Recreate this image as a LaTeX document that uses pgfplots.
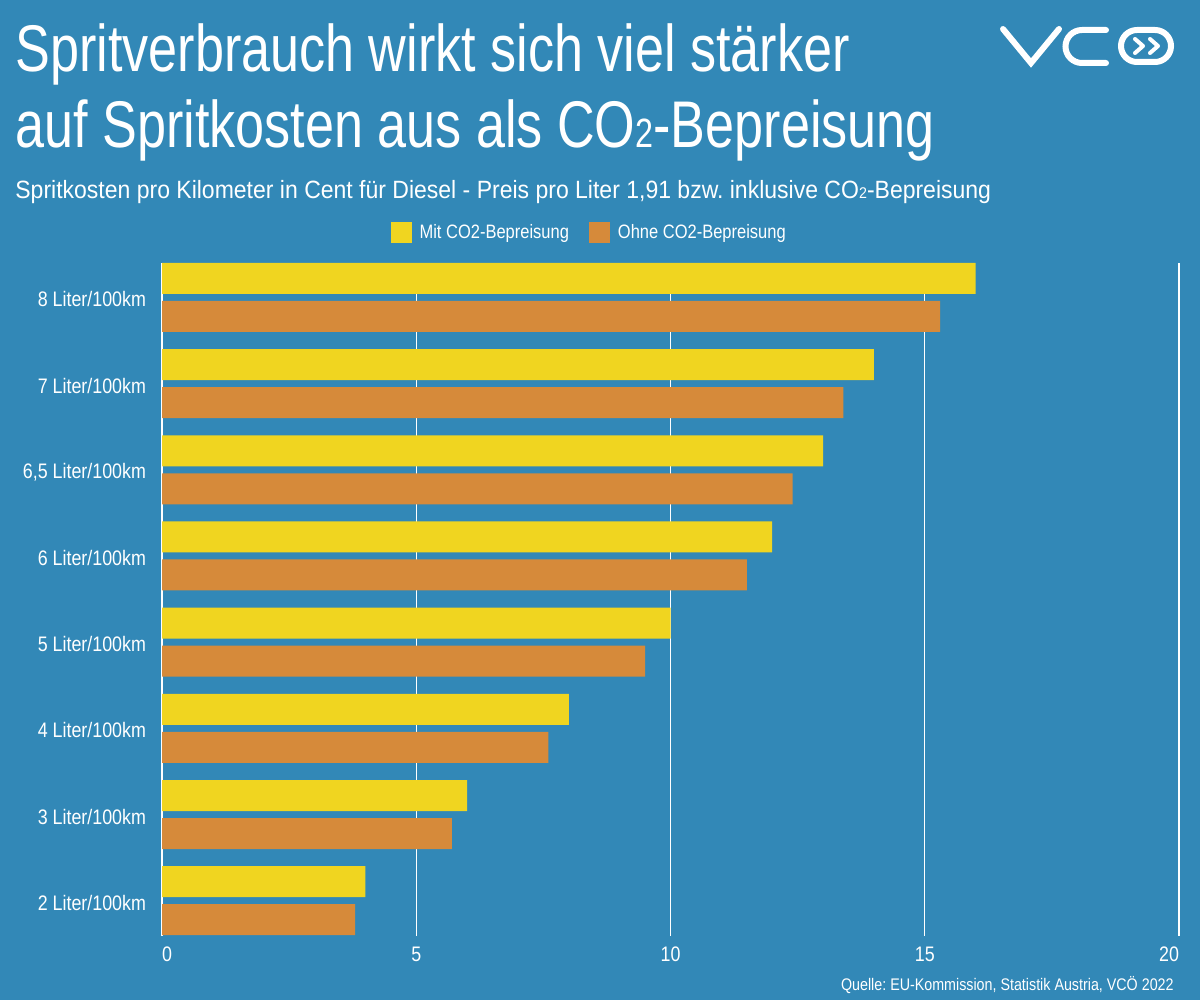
\documentclass[border=0pt]{standalone}
\usepackage{pgfplots}
\pgfplotsset{compat=1.18}
\usepackage{fontspec}
\setmainfont{Liberation Sans}[FakeStretch=0.85]
\newfontfamily\titlefont{Liberation Sans}[FakeStretch=0.79]
\newfontfamily\subfont{Liberation Sans}[FakeStretch=0.92]
\definecolor{bg}{HTML}{3288B7}
\definecolor{ymit}{HTML}{F0D520}
\definecolor{oohne}{HTML}{D68A3A}
\newcommand{\sub}[1]{\scalebox{0.62}{#1}}
\frenchspacing
\begin{document}
\begin{tikzpicture}
\fill[bg] (0,0) rectangle (600pt,-500pt);
% title
\node[anchor=base west, inner sep=0pt, text=white, font=\titlefont\fontsize{33pt}{36pt}\selectfont] at (7.5pt,-36pt) {Spritverbrauch wirkt sich viel stärker};
\node[anchor=base west, inner sep=0pt, text=white, font=\titlefont\fontsize{33pt}{36pt}\selectfont] at (7.5pt,-74pt) {auf Spritkosten aus als CO\sub{2}-Bepreisung};
\node[anchor=base west, inner sep=0pt, text=white, font=\subfont\fontsize{12.5pt}{14pt}\selectfont] at (7.5pt,-99.5pt) {Spritkosten pro Kilometer in Cent für Diesel - Preis pro Liter 1,91 bzw. inklusive CO\sub{2}-Bepreisung};
% logo
\draw[white, line width=3pt, line cap=round, line join=miter] (501.5pt,-14.5pt) -- (515.5pt,-31.5pt) -- (529.5pt,-14.5pt);
\draw[white, line width=3pt, line cap=round] (553pt,-15pt) -- (541pt,-15pt) arc[start angle=90, end angle=270, radius=8.25pt] -- (553pt,-31.5pt);
\draw[white, line width=3pt, rounded corners=8pt] (560.5pt,-15pt) rectangle (585.5pt,-31pt);
\draw[white, line width=2pt, line cap=round, line join=round] (567.5pt,-19.5pt) -- (571.5pt,-23pt) -- (567.5pt,-26.5pt);
\draw[white, line width=2pt, line cap=round, line join=round] (575pt,-19.5pt) -- (579pt,-23pt) -- (575pt,-26.5pt);
% source
\node[anchor=base east, inner sep=0pt, text=white, font=\fontsize{8.4pt}{10pt}\selectfont] at (587pt,-495pt) {Quelle: EU-Kommission, Statistik Austria, VCÖ 2022};
\begin{axis}[
  at={(81pt,-468pt)}, anchor=south west,
  scale only axis, width=508.5pt, height=336.5pt,
  xmin=0, xmax=20, ymin=-0.41, ymax=7.4,
  xbar, bar width=15.5pt,
  axis line style={draw=none},
  major tick length=0pt,
  xmajorgrids, grid style={white, line width=0.6pt},
  xtick={0,5,10,15,20},
  xticklabels={\makebox[0pt][l]{0},5,10,15,\makebox[0pt][r]{20}},
  ytick={0,...,7},
  yticklabels={2 Liter/100km,3 Liter/100km,4 Liter/100km,5 Liter/100km,6 Liter/100km,{6,5 Liter/100km},7 Liter/100km,8 Liter/100km},
  /pgf/number format/assume math mode=true,
  xticklabel style={text=white, font=\fontsize{10.5pt}{12pt}\selectfont, anchor=north, yshift=-2pt},
  yticklabel style={text=white, font=\fontsize{10.5pt}{12pt}\selectfont, anchor=east, xshift=-4.5pt, yshift=-1pt},
  legend columns=2,
  legend style={at={(0.421,1.0453)}, anchor=center, draw=none, fill=none, text=white,
    font=\fontsize{9.7pt}{11pt}\selectfont,
    /tikz/every odd column/.append style={column sep=2pt},
    /tikz/every even column/.append style={column sep=8pt}},
  legend image code/.code={\fill[#1] (0pt,-5.25pt) rectangle (10.5pt,5.25pt);},
]
\addplot[fill=ymit, draw=none, bar shift=9.5pt] coordinates {(4,0) (6,1) (8,2) (10,3) (12,4) (13,5) (14,6) (16,7)};
\addlegendentry{Mit CO2-Bepreisung}
\addplot[fill=oohne, draw=none, bar shift=-9.5pt] coordinates {(3.8,0) (5.7,1) (7.6,2) (9.5,3) (11.5,4) (12.4,5) (13.4,6) (15.3,7)};
\addlegendentry{Ohne CO2-Bepreisung}
\end{axis}
\end{tikzpicture}
\end{document}
